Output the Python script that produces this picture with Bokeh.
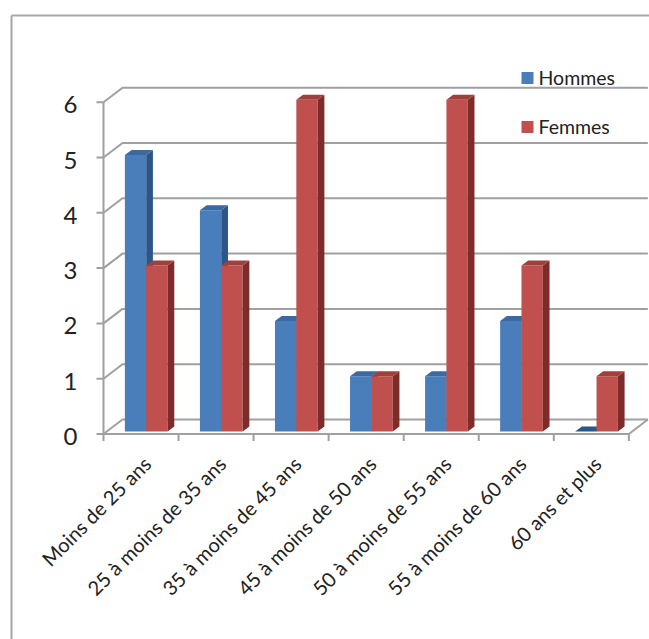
import math
from bokeh.plotting import figure
from bokeh.models import Range1d
from bokeh.core.properties import value
from bokeh.embed import file_html
from bokeh.resources import INLINE

# ---- data ----
categories = ["Moins de 25 ans", "25 à moins de 35 ans", "35 à moins de 45 ans",
              "45 à moins de 50 ans", "50 à moins de 55 ans", "55 à moins de 60 ans",
              "60 ans et plus"]
hommes = [5, 4, 2, 1, 1, 2, 0]
femmes = [3, 3, 6, 1, 6, 3, 1]
y_ticks = [0, 1, 2, 3, 4, 5, 6]
series_names = ["Hommes", "Femmes"]

# ---- geometry (pixel scale of the data space) ----
W, H = 649, 639
XPX, YPX = 75.05, 55.3      # pixels per category / per unit value
X0PX, Y0PX = 103, 433.5     # pixel of data origin (front plane)

def dx(px):
    return px / XPX

def dy(px):
    return px / YPX

FONT = "Lato"
GRID = "#a0a0a0"
TXT = "#222222"

p = figure(width=W, height=H,
           x_range=Range1d(-X0PX / XPX, (W - X0PX) / XPX),
           y_range=Range1d(-(H - Y0PX) / YPX, Y0PX / YPX),
           min_border=0, toolbar_location=None, output_backend="svg",
           x_axis_location=None, y_axis_location=None)
p.grid.visible = False
p.outline_line_color = None
p.background_fill_color = "white"
p.border_fill_color = "white"

ncat = len(categories)
ymax = max(y_ticks)

# outer chart border (left + top)
bx = dx(11 - X0PX)
by = dy(Y0PX - 15)
p.line([bx, bx], [-20, by], line_color="#a6a6a6", line_width=2)
p.line([bx, 20], [by, by], line_color="#a6a6a6", line_width=2)

# 3D walls: back wall offset
BDX, BDY = dx(19), dy(14.5)
xs, ys = [], []
for k in y_ticks:
    xs.append([0, BDX, ncat + BDX])
    ys.append([k, k + BDY, k + BDY])
p.multi_line(xs, ys, line_color=GRID, line_width=2)
# floor right edge
p.line([ncat, ncat + BDX], [0, BDY], line_color=GRID, line_width=2)

# bars
FDX, FDY = dx(5.2), dy(2.5)     # bar front plane offset
DDX, DDY = dx(6.7), dy(5.0)     # bar depth
BW = dx(21.35)

styles = [("#4a7ebb", "#2c5687", "#3b6aa0"),
          ("#c0504d", "#7d2c2a", "#a0403d")]

for s, vals in enumerate([hommes, femmes]):
    front, side, top = styles[s]
    lefts = [i + 0.5 - BW + s * BW + FDX for i in range(ncat)]
    rights = [l + BW for l in lefts]
    bots = [FDY] * ncat
    tops = [v + FDY for v in vals]
    nz = [i for i in range(ncat) if vals[i] > 0]
    p.quad(left=[lefts[i] for i in nz], right=[rights[i] for i in nz],
           bottom=[bots[i] for i in nz], top=[tops[i] for i in nz],
           fill_color=front, line_color=None)
    sx = [[rights[i], rights[i] + DDX, rights[i] + DDX, rights[i]] for i in nz]
    sy = [[bots[i], bots[i] + DDY, tops[i] + DDY, tops[i]] for i in nz]
    p.patches(sx, sy, fill_color=side, line_color=None)
    tx = [[lefts[i], rights[i], rights[i] + DDX, lefts[i] + DDX] for i in range(ncat)]
    ty = [[tops[i], tops[i], tops[i] + DDY, tops[i] + DDY] for i in range(ncat)]
    p.patches(tx, ty, fill_color=[top if vals[i] > 0 else side for i in range(ncat)],
              line_color=None)

# front axes
p.line([0, 0], [-dy(7), ymax], line_color=GRID, line_width=2)
p.line([0, ncat], [0, 0], line_color=GRID, line_width=2)
p.segment(x0=[-dx(7)] * len(y_ticks), y0=y_ticks, x1=[0] * len(y_ticks), y1=y_ticks,
          line_color=GRID, line_width=2)
p.segment(x0=list(range(1, ncat + 1)), y0=[0] * ncat,
          x1=list(range(1, ncat + 1)), y1=[-dy(7)] * ncat,
          line_color=GRID, line_width=2)

# y tick labels
p.text(x=[-dx(26)] * len(y_ticks), y=[k - dy(2.5) for k in y_ticks],
       text=[str(k) for k in y_ticks], text_align="right", text_baseline="middle",
       text_font=value(FONT), text_font_size="24px", text_color=TXT)

# category labels
p.text(x=[i + 0.5 + dx(6) for i in range(ncat)], y=[-dy(26)] * ncat, text=categories,
       angle=math.pi / 4, text_align="right", text_baseline="middle",
       text_font=value(FONT), text_font_size="20px", text_color=TXT)

# legend
lx = dx(521 - X0PX)
ly = [dy(Y0PX - 77.5), dy(Y0PX - 126.5)]
p.rect(x=[lx + dx(6)] * 2, y=ly, width=dx(12), height=dy(12),
       fill_color=[styles[0][0], styles[1][0]], line_color=None)
p.text(x=[dx(538 - X0PX)] * 2, y=[v + dy(1) for v in ly], text=series_names,
       text_align="left", text_baseline="middle", text_font=value(FONT),
       text_font_size="19.5px", text_color=TXT)

open("out.html", "w").write(file_html(p, INLINE))
